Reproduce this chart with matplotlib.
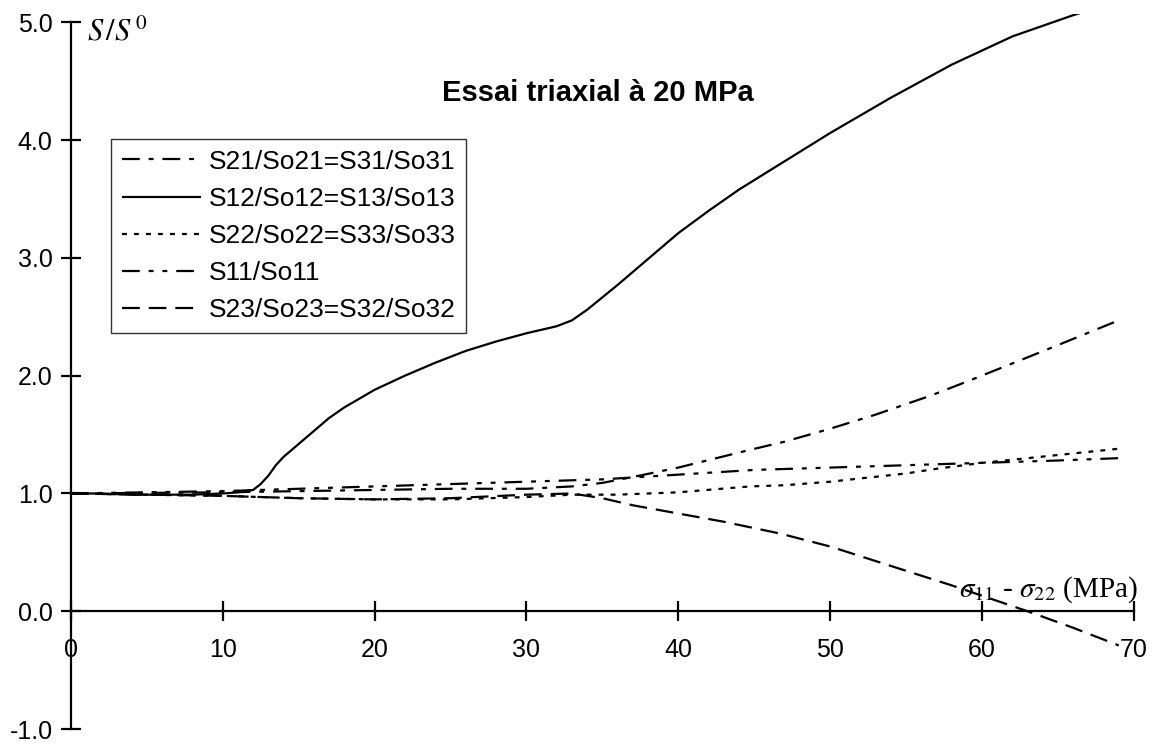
import matplotlib
matplotlib.use("Agg")
import matplotlib.pyplot as plt

# ---------------- data ----------------
title = "Essai triaxial à 20 MPa"
labels = ["S21/So21=S31/So31", "S12/So12=S13/So13", "S22/So22=S33/So33",
          "S11/So11", "S23/So23=S32/So32"]

x_s21 = [0, 10, 20, 25, 30, 33, 35, 37, 40, 44.7, 47, 50, 53, 56.6, 59, 62.5, 65, 69]
y_s21 = [1.0, 1.01, 1.03, 1.04, 1.04, 1.06, 1.09, 1.14, 1.22, 1.37, 1.44, 1.55, 1.67,
         1.83, 1.95, 2.13, 2.26, 2.47]

x_s12 = [0, 2, 4, 6, 8, 10, 11, 12, 12.5, 13, 13.5, 14, 15, 16, 17, 18, 20, 22, 24, 26,
         28, 30, 31, 32, 33, 34, 36, 38, 40, 42, 44, 46, 48, 50, 52, 54, 56, 58, 60, 62,
         64, 66, 67.5]
y_s12 = [1.0, 1.0, 0.99, 0.99, 0.99, 1.0, 1.01, 1.03, 1.08, 1.15, 1.24, 1.31, 1.42,
         1.53, 1.64, 1.73, 1.88, 2.0, 2.11, 2.21, 2.29, 2.36, 2.39, 2.42, 2.47, 2.56,
         2.77, 2.99, 3.21, 3.40, 3.58, 3.74, 3.90, 4.06, 4.21, 4.36, 4.50, 4.64, 4.76,
         4.88, 4.97, 5.06, 5.12]

x_s22 = [0, 5, 10, 15, 20, 25, 30, 33, 36, 40, 44.7, 47, 50, 55, 57, 60, 63, 66, 69]
y_s22 = [1.0, 0.99, 0.98, 0.96, 0.95, 0.95, 0.97, 0.99, 0.99, 1.01, 1.06, 1.07, 1.10,
         1.17, 1.21, 1.26, 1.30, 1.34, 1.38]

x_s11 = [0, 10, 20, 25, 30, 35, 40, 45, 50, 55, 60, 65, 69]
y_s11 = [1.0, 1.02, 1.06, 1.08, 1.10, 1.12, 1.16, 1.20, 1.22, 1.24, 1.26, 1.28, 1.30]

x_s23 = [0, 5, 10, 15, 20, 25, 30, 33, 35, 37, 40, 43, 46.7, 50, 54.6, 58, 63, 66, 69]
y_s23 = [1.0, 0.99, 0.98, 0.96, 0.95, 0.96, 0.99, 1.0, 0.96, 0.90, 0.83, 0.76, 0.66,
         0.55, 0.36, 0.22, 0.0, -0.14, -0.29]

xticks = [0, 10, 20, 30, 40, 50, 60, 70]
yticks = [-1.0, 0.0, 1.0, 2.0, 3.0, 4.0, 5.0]

# ---------------- figure ----------------
plt.rcParams['font.family'] = ['Liberation Sans', 'DejaVu Sans']
plt.rcParams['mathtext.fontset'] = 'stix'

fig = plt.figure(figsize=(11.55, 7.44), dpi=100)
ax = fig.add_axes([0.0613, 0.0200, 0.9205, 0.9612])

lw = 1.6
styles = [
    (0, (8, 4, 2.2, 4)),            # dash-dot
    '-',                             # solid
    (0, (2.2, 3.2)),                 # dotted
    (0, (8, 4, 2.2, 4, 2.2, 4)),     # dash-dot-dot
    (0, (8, 4)),                     # dashed
]
series = [(x_s21, y_s21), (x_s12, y_s12), (x_s22, y_s22), (x_s11, y_s11), (x_s23, y_s23)]
for (xs, ys), ls, lab in zip(series, styles, labels):
    ax.plot(xs, ys, color='black', lw=lw, linestyle=ls, label=lab,
            solid_capstyle='butt', dash_capstyle='butt')

ax.set_xlim(0, 70)
ax.set_ylim(-1.0, 5.07)
ax.spines['top'].set_visible(False)
ax.spines['right'].set_visible(False)
ax.spines['bottom'].set_position(('data', 0))
ax.spines['left'].set_bounds(-1.0, 5.0)
for s in ('left', 'bottom'):
    ax.spines[s].set_linewidth(1.6)
ax.set_xticks(xticks)
ax.set_xticklabels([str(v) for v in xticks])
ax.set_yticks(yticks)
ax.set_yticklabels([f"{v:.1f}" for v in yticks])
ax.tick_params(direction='inout', length=14, width=1.6, labelsize=18)
ax.tick_params(axis='x', pad=12)
ax.tick_params(axis='y', pad=6)
ax.patch.set_visible(False)

ax.text(1.05, 4.91, r'$S\,/S^{\,0}$', fontsize=22, ha='left', va='center')
ax.text(70.3, 0.185, r'$\sigma_{11}$ - $\sigma_{22}$ (MPa)', fontsize=21,
        ha='right', va='center', family='Liberation Serif')
ax.text(34.7, 4.40, title, fontsize=21, fontweight='bold', ha='center', va='center')

leg = ax.legend(loc='upper left', bbox_to_anchor=(111 / 1155, 1 - 139 / 744),
                bbox_transform=fig.transFigure, borderaxespad=0, fancybox=False,
                frameon=True, edgecolor='black', fontsize=19, handlelength=3.0,
                handletextpad=0.3, labelspacing=0.5, borderpad=0.4)
leg.get_frame().set_linewidth(1.0)

fig.savefig('out.png', dpi=100)
